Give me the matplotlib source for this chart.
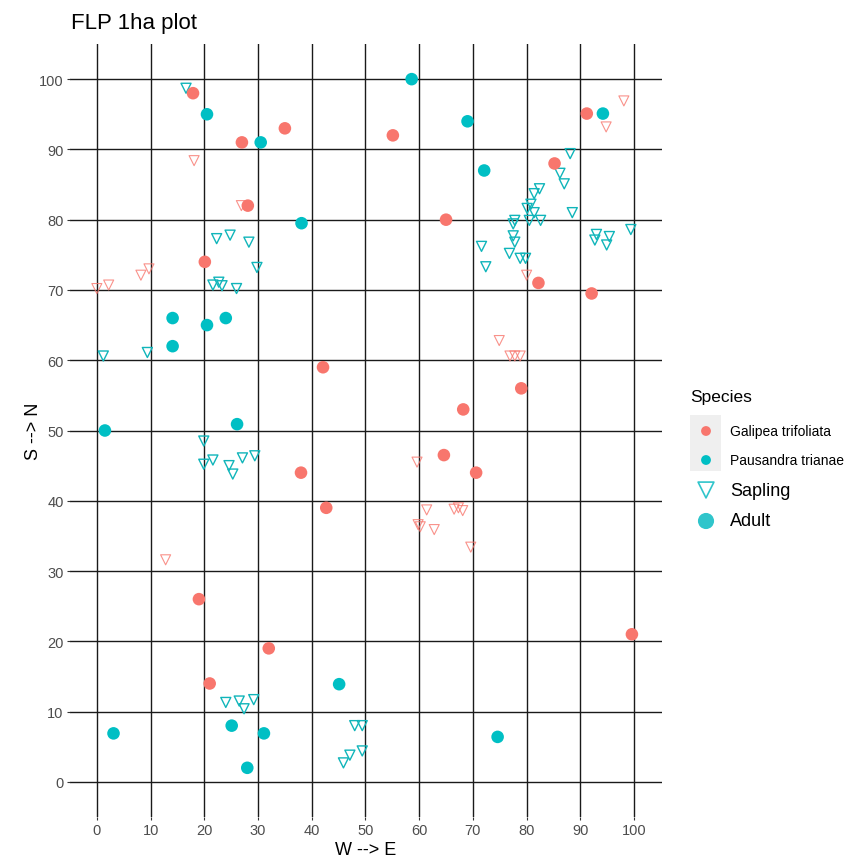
import matplotlib.pyplot as plt
from matplotlib.patches import Rectangle

plt.rcParams['font.family'] = ['Liberation Sans', 'DejaVu Sans']

# stem positions in the 1 ha plot (metres east, metres north)
galipea_adult_x = [17.9, 27.0, 35.0, 28.1, 20.1, 55.1, 65.0, 85.2, 91.2, 82.2, 92.1,
                   42.1, 79.0, 68.2, 64.6, 70.6, 38.0, 42.7, 19.0, 32.0, 21.0, 99.6]
galipea_adult_y = [98.0, 91.0, 93.0, 82.0, 74.0, 92.0, 80.0, 88.0, 95.1, 71.0, 69.5,
                   59.0, 56.0, 53.0, 46.5, 44.0, 44.0, 39.0, 26.0, 19.0, 14.0, 21.0]

pausandra_adult_x = [58.6, 20.5, 30.5, 69.0, 72.1, 94.2, 38.1, 14.1, 20.5, 24.0,
                     14.1, 1.5, 26.1, 45.1, 3.1, 25.1, 31.1, 28.0, 74.6]
pausandra_adult_y = [100.0, 95.0, 91.0, 94.0, 87.0, 95.1, 79.5, 66.0, 65.0, 66.0,
                     62.0, 50.0, 50.9, 13.9, 6.9, 8.0, 6.9, 2.0, 6.4]

galipea_sapling_x = [18.1, 26.9, 0.0, 2.2, 8.2, 9.7, 12.8, 98.1, 94.8, 80.0, 74.9,
                     76.9, 77.8, 78.8, 59.6, 61.4, 59.8, 60.2, 62.8, 66.5, 67.3, 68.1, 69.6]
galipea_sapling_y = [88.4, 82.0, 70.2, 70.7, 72.1, 73.0, 31.6, 96.9, 93.2, 72.1, 62.8,
                     60.6, 60.6, 60.6, 45.5, 38.7, 36.6, 36.3, 35.9, 38.8, 39.0, 38.6, 33.4]

pausandra_sapling_x = [16.6, 22.3, 24.8, 28.3, 29.8, 21.6, 22.7, 23.3, 26.0, 1.2, 9.4,
                       19.9, 19.9, 21.6, 24.6, 25.3, 27.1, 29.4,
                       24.0, 26.5, 27.4, 29.2, 48.0, 49.4, 49.4, 47.1, 45.9,
                       88.1, 86.2, 87.0, 82.4, 81.4, 80.8, 80.1, 81.4, 80.5, 82.6,
                       77.8, 77.5, 88.5, 77.5, 77.8, 71.6, 72.4, 76.8, 78.8, 79.8,
                       93.0, 92.7, 95.4, 94.9, 99.4]
pausandra_sapling_y = [98.7, 77.3, 77.8, 76.8, 73.2, 70.7, 71.1, 70.6, 70.2, 60.6, 61.1,
                       48.5, 45.2, 45.8, 45.0, 43.8, 46.1, 46.4,
                       11.3, 11.5, 10.4, 11.7, 8.0, 8.0, 4.4, 3.8, 2.7,
                       89.4, 86.6, 85.1, 84.4, 83.7, 82.2, 81.6, 81.0, 79.9, 79.9,
                       79.9, 79.4, 81.0, 77.7, 76.8, 76.2, 73.3, 75.2, 74.5, 74.5,
                       77.9, 77.1, 77.6, 76.4, 78.6]

species = ['Galipea trifoliata', 'Pausandra trianae']
red = '#F8766D'
teal = '#00BFC4'
ticks = list(range(0, 101, 10))

W, H = 853, 862
fig = plt.figure(figsize=(W / 100, H / 100), dpi=100)
ax = fig.add_axes([70 / W, 44 / H, 592 / W, 773 / H])

# saplings first, adults drawn on top
ax.scatter(galipea_sapling_x, galipea_sapling_y, marker='v', s=52,
           facecolors='none', edgecolors=red, linewidths=0.8, alpha=0.8, zorder=3)
ax.scatter(pausandra_sapling_x, pausandra_sapling_y, marker='v', s=52,
           facecolors='none', edgecolors='#10B5BA', linewidths=1.0, zorder=3)
ax.scatter(galipea_adult_x, galipea_adult_y, marker='o', s=82,
           color=red, edgecolors='none', zorder=4)
ax.scatter(pausandra_adult_x, pausandra_adult_y, marker='o', s=82,
           color=teal, edgecolors='none', zorder=4)

ax.set_xlim(-5, 105.2)
ax.set_ylim(-5, 105)
ax.set_xticks(ticks)
ax.set_yticks(ticks)
ax.grid(True, color='#1A1A1A', linewidth=1.0, zorder=1)
ax.set_axisbelow(True)
for sp in ax.spines.values():
    sp.set_visible(False)
ax.tick_params(length=2.5, width=0.8, color='#333333', labelcolor='#4D4D4D',
               labelsize=10.5, pad=2)
ax.set_xlabel('W --> E', fontsize=13, labelpad=3)
ax.set_ylabel('S --> N', fontsize=13, labelpad=-2)
fig.text(71 / W, 1 - 23 / H, 'FLP 1ha plot', fontsize=16, ha='left', va='center')

# legend, laid out in figure pixels
lax = fig.add_axes([0, 0, 1, 1], facecolor='none')
lax.set_xlim(0, W)
lax.set_ylim(H, 0)
lax.axis('off')
lax.text(690, 398, 'Species', fontsize=12.5, ha='left', va='center')
lax.add_patch(Rectangle((690, 416), 31, 56, facecolor='#EFEFEF', edgecolor='none'))
for yy, col, name in zip([432, 461], [red, teal], species):
    lax.scatter([706], [yy], s=50, color=col, edgecolors='none')
    lax.text(730, yy, name, fontsize=10, ha='left', va='center')
lax.scatter([706], [491], marker='v', s=130, facecolors='none',
            edgecolors='#30C5CB', linewidths=1.2)
lax.text(730, 492, 'Sapling', fontsize=13, ha='left', va='center')
lax.scatter([706], [522], marker='o', s=135, color='#30C5CB', edgecolors='none')
lax.text(730, 522, 'Adult', fontsize=13, ha='left', va='center')

fig.savefig('out.png', dpi=100)
